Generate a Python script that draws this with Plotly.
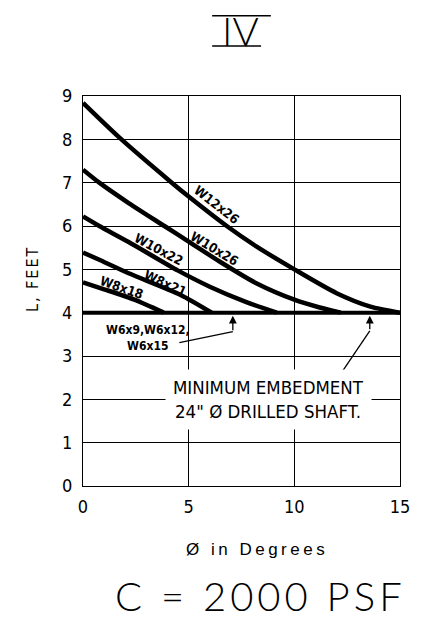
import plotly.graph_objects as go

# Embedment length L (ft) versus soil friction angle phi (deg), C = 2000 PSF
phi_w12x26 = [0, 1.7, 4.2, 5.0, 6.8, 8.2, 10.0, 12.0, 13.6, 15.0]
L_w12x26 = [8.84, 8.05, 7.0, 6.68, 6.0, 5.53, 5.0, 4.45, 4.14, 4.0]

phi_w10x26 = [0, 0.77, 2.16, 3.85, 5.0, 6.5, 8.2, 10.0, 11.2, 12.2]
L_w10x26 = [7.30, 7.0, 6.53, 6.0, 5.64, 5.17, 4.68, 4.30, 4.12, 4.0]

phi_w10x22 = [0, 0.77, 2.16, 4.5, 6.0, 7.7, 9.17]
L_w10x22 = [6.22, 6.0, 5.63, 4.97, 4.6, 4.25, 4.0]

phi_w8x21 = [0, 0.77, 2.16, 4.62, 6.09]
L_w8x21 = [5.39, 5.22, 4.91, 4.41, 4.0]

phi_w8x18 = [0, 1.0, 2.43, 3.82]
L_w8x18 = [4.70, 4.54, 4.30, 4.0]

# W6 sections govern at the minimum embedment over the whole range
phi_w6 = [0, 15]
L_w6 = [4.0, 4.0]

x_ticks = [0, 5, 10, 15]
y_ticks = list(range(0, 10))

curve_labels = ["W12x26", "W10x26", "W10x22", "W8x21", "W8x18"]
label_phi = [6.3, 6.2, 3.58, 3.92, 1.8]
label_L = [6.49, 5.49, 5.45, 4.68, 4.57]
label_angle = [38, 31, 28, 24, 19]

W, H = 422, 620
ML, MR, MT, MB = 83, 15, 96, 134
PW, PH = W - ML - MR, H - MT - MB

def paper_x(px):
    return (px - ML) / PW

def paper_y(py):
    return (H - MB - py) / PH

NARROW = "DejaVu Sans Condensed, Liberation Sans, sans-serif"
PLAIN = "Liberation Sans, DejaVu Sans, sans-serif"
THIN = "Lato, sans-serif"

fig = go.Figure()

curves = [(phi_w12x26, L_w12x26), (phi_w10x26, L_w10x26), (phi_w10x22, L_w10x22),
          (phi_w8x21, L_w8x21), (phi_w8x18, L_w8x18)]
for phi, L in curves:
    fig.add_trace(go.Scatter(x=phi, y=L, mode="lines",
                             line=dict(color="black", width=4.5, shape="spline", smoothing=0.7),
                             hoverinfo="skip", showlegend=False))

fig.add_trace(go.Scatter(x=phi_w6, y=L_w6, mode="lines",
                         line=dict(color="black", width=4),
                         hoverinfo="skip", showlegend=False))

# leader lines for the notes
lead_w6_x = [4.56, 7.09]
lead_w6_y = [3.31, 3.56]
lead_min_x = [12.25, 13.57]
lead_min_y = [2.63, 3.58]
for lx, ly in [(lead_w6_x, lead_w6_y), (lead_min_x, lead_min_y)]:
    fig.add_trace(go.Scatter(x=lx, y=ly, mode="lines", line=dict(color="black", width=1.3),
                             hoverinfo="skip", showlegend=False))

centered = dict(xanchor="center", yanchor="middle", showarrow=False)

annotations = []
for name, x, y, ang in zip(curve_labels, label_phi, label_L, label_angle):
    annotations.append(dict(x=x, y=y, xref="x", yref="y", text=f"<b>{name}</b>",
                            textangle=ang, font=dict(family=NARROW, size=13, color="black"),
                            **centered))

annotations.append(dict(x=3.08, y=3.42, xref="x", yref="y",
                        text="<b>W6x9,W6x12,<br>W6x15</b>", align="center",
                        font=dict(family=NARROW, size=12, color="black"), **centered))

for tip_x, tail_y in [(7.09, 3.56), (13.57, 3.58)]:
    annotations.append(dict(x=tip_x, y=3.93, ax=tip_x, ay=tail_y, xref="x", yref="y",
                            axref="x", ayref="y", text="", showarrow=True,
                            arrowhead=2, arrowsize=1.2, arrowwidth=1.3, arrowcolor="black"))

annotations.append(dict(x=8.8, y=2.0, xref="x", yref="y",
                        text="MINIMUM EMBEDMENT<br>24\" Ø DRILLED SHAFT.",
                        bgcolor="white", borderpad=7, align="center",
                        font=dict(family=NARROW, size=18.5, color="black"), **centered))

annotations.append(dict(x=paper_x(31), y=paper_y(279), xref="paper", yref="paper",
                        text='<span style="letter-spacing:2px">L, FEET</span>', textangle=-90,
                        font=dict(family=NARROW, size=16, color="black"), **centered))

annotations.append(dict(x=paper_x(261), y=paper_y(549), xref="paper", yref="paper",
                        text='<span style="letter-spacing:3.5px">Ø in Degrees</span>',
                        font=dict(family=PLAIN, size=17, color="black"), **centered))

annotations.append(dict(x=paper_x(264), y=paper_y(596), xref="paper", yref="paper",
                        text='<span style="letter-spacing:4px">C = 2000 PSF</span>',
                        font=dict(family=THIN, size=40, color="black", weight=300), **centered))

annotations.append(dict(x=paper_x(244), y=paper_y(31), xref="paper", yref="paper",
                        text="IV", font=dict(family=THIN, size=40, color="black", weight=300),
                        **centered))

shapes = [
    dict(type="line", xref="paper", yref="paper", x0=paper_x(215), x1=paper_x(275),
         y0=paper_y(15.7), y1=paper_y(15.7), line=dict(color="black", width=1.6)),
    dict(type="line", xref="paper", yref="paper", x0=paper_x(215), x1=paper_x(265),
         y0=paper_y(46), y1=paper_y(46), line=dict(color="black", width=1.6)),
]

axis_common = dict(showgrid=True, gridcolor="black", gridwidth=1, showline=True,
                   linecolor="black", linewidth=1, mirror=True, zeroline=False,
                   ticks="", fixedrange=True,
                   tickfont=dict(family=NARROW, size=18, color="black"))

fig.update_layout(
    width=W, height=H, margin=dict(l=ML, r=MR, t=MT, b=MB),
    paper_bgcolor="white", plot_bgcolor="white",
    xaxis=dict(range=[0, 15], tickvals=x_ticks, ticklabelstandoff=4, **axis_common),
    yaxis=dict(range=[0, 9], tickvals=y_ticks, ticklabelstandoff=6, **axis_common),
    annotations=annotations, shapes=shapes,
)

fig.write_html("out.html")
